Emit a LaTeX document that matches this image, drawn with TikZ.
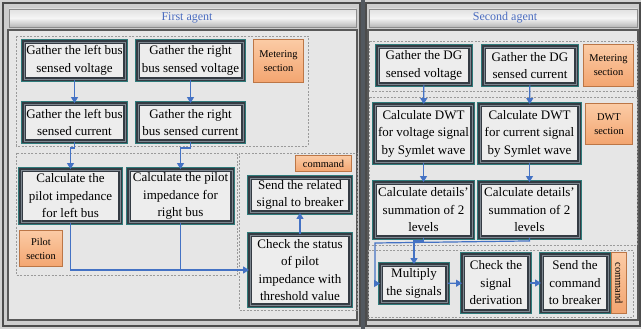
\documentclass[tikz,border=0pt]{standalone}
\usepackage{fontspec}
\setmainfont{Liberation Serif}
\usetikzlibrary{arrows.meta}

\definecolor{arrowblue}{HTML}{4472C4}
\definecolor{frameteal}{HTML}{2F7B7B}
\definecolor{framedark}{HTML}{343B43}
\definecolor{framemid}{HTML}{7E8790}
\definecolor{boxfill}{HTML}{EDEDED}
\definecolor{orangetop}{HTML}{FBCBA5}
\definecolor{orangebot}{HTML}{F3A570}
\definecolor{orangeedge}{HTML}{BC7646}
\definecolor{headtext}{HTML}{4A6CC0}
\definecolor{dashgray}{HTML}{9A9A9A}
\definecolor{canvasgray}{HTML}{D2D2D2}
\definecolor{panelgray}{HTML}{CDCDCD}
\definecolor{bodygray}{HTML}{E6E6E6}

\tikzset{
  stepbox/.style={
    preaction={draw=frameteal, line width=5.2pt},
    draw=framedark, double=framemid, double distance=0.7pt, line width=1.9pt,
    fill=boxfill, inner sep=0pt, align=center,
    font=\fontsize{13}{17.5}\selectfont},
  tagbox/.style={
    draw=orangeedge, line width=1.3pt,
    top color=orangetop, bottom color=orangebot,
    inner sep=0pt, align=center,
    font=\fontsize{10.4}{14}\selectfont},
  grp/.style={draw=dashgray, line width=0.8pt, dash pattern=on 2pt off 1.5pt},
  arr/.style={draw=arrowblue, line width=1.2pt, -{Triangle[width=7pt,length=6pt]}},
  lnk/.style={draw=arrowblue, line width=1.2pt},
  headbar/.style={draw=black!45, line width=0.8pt,
    top color=black!12, bottom color=black!28, middle color=black!4},
  panel/.style={draw=black!70, line width=1.2pt, fill=panelgray},
  panelbody/.style={draw=black!65, line width=1.4pt, fill=bodygray}
}

\begin{document}
\begin{tikzpicture}[x=1pt, y=-1pt]
  \useasboundingbox (0,0) rectangle (641,329);
  \fill[canvasgray] (0,0) rectangle (641,329);

  % two agent panels
  \draw[panel] (3,3) rectangle (360,326);
  \draw[panel] (366,3) rectangle (640,326);
  \fill[framedark!85] (361,0) rectangle (365,329);
  \draw[panelbody] (8,30) rectangle (357,320);
  \draw[panelbody] (368,30) rectangle (638,320);

  % panel title bars
  \draw[headbar] (9,9) rectangle (356,27);
  \node[text=headtext, font=\fontsize{12}{14}\selectfont] (t1) at (187,18) {First agent};
  \draw[headbar] (369,9) rectangle (637,27);
  \node[text=headtext, font=\fontsize{12}{14}\selectfont] (t2) at (505,18) {Second agent};

  % dashed section frames
  \draw[grp] (16,36) rectangle (308,146);
  \draw[grp] (16,153) rectangle (237,275);
  \draw[grp] (239,153) rectangle (357,310);
  \draw[grp] (369,41) rectangle (637,91);
  \draw[grp] (369,97) rectangle (637,245);
  \draw[grp] (368,250) rectangle (633,317);

  % first agent
  \node[stepbox, minimum width=101, minimum height=37] (L1) at (74.5,60.5) {Gather the left bus\\sensed voltage};
  \node[stepbox, minimum width=105, minimum height=37] (L2) at (190.5,60.5) {Gather the right\\bus sensed voltage};
  \node[tagbox, minimum width=50, minimum height=43] (M1) at (278.5,61) {Metering\\section};
  \node[stepbox, minimum width=101, minimum height=37] (L3) at (74.5,122.5) {Gather the left bus\\sensed current};
  \node[stepbox, minimum width=105, minimum height=37] (L4) at (190.5,122.5) {Gather the right\\bus sensed current};
  \node[stepbox, minimum width=99, minimum height=52] (L5) at (70.5,196) {Calculate the\\pilot impedance\\for left bus};
  \node[stepbox, minimum width=103, minimum height=52] (L6) at (180.5,196) {Calculate the pilot\\impedance for\\right bus};
  \node[tagbox, minimum width=43, minimum height=36] (P1) at (41,248.5) {Pilot\\section};
  \node[tagbox, minimum width=56, minimum height=16] (C1) at (323.5,163.5) {command};
  \node[stepbox, minimum width=100, minimum height=34] (L7) at (300,195) {Send the related\\signal to breaker};
  \node[stepbox, minimum width=100, minimum height=70] (L8) at (300,270) {Check the status\\of pilot\\impedance with\\threshold value};

  \draw[arr] (L1) -- (L3);
  \draw[arr] (L2) -- (L4);
  \draw[arr] (L3.south) -- ++(0,6) -| (L5.north);
  \draw[arr] (L4.south) -- ++(0,6) -| (L6.north);
  \draw[arr] (L5.south) |- (L8.west);
  \draw[lnk] (L6.south) -- (L6.south |- L8.west);
  \draw[arr] (L8) -- (L7);

  % second agent
  \node[stepbox, minimum width=92, minimum height=37] (R1) at (424,65.5) {Gather the DG\\sensed voltage};
  \node[stepbox, minimum width=92, minimum height=37] (R2) at (530,65.5) {Gather the DG\\sensed current};
  \node[tagbox, minimum width=50, minimum height=42] (M2) at (608.5,65.5) {Metering\\section};
  \node[stepbox, minimum width=97, minimum height=57] (R3) at (423.5,133.5) {Calculate DWT\\for voltage signal\\by Symlet wave};
  \node[stepbox, minimum width=99, minimum height=57] (R4) at (529.5,133.5) {Calculate DWT\\for current signal\\by Symlet wave};
  \node[tagbox, minimum width=47, minimum height=41] (D1) at (609,124) {DWT\\section};
  \node[stepbox, minimum width=97, minimum height=54] (R5) at (423.5,210) {Calculate details'\\summation of 2\\levels};
  \node[stepbox, minimum width=99, minimum height=54] (R6) at (529.5,210) {Calculate details'\\summation of 2\\levels};
  \node[stepbox, minimum width=66, minimum height=37] (R7) at (414,283.5) {Multiply\\the signals};
  \node[stepbox, minimum width=66, minimum height=56] (R8) at (496,283) {Check the\\signal\\derivation};
  \node[stepbox, minimum width=66, minimum height=56] (R9) at (575,283) {Send the\\command\\to breaker};
  \node[tagbox, minimum width=15, minimum height=61] (C2) at (619,283) {};
  \node[rotate=-90, font=\fontsize{10.4}{14}\selectfont] (C2t) at (C2.center) {command};

  \draw[arr] (R1) -- (R3);
  \draw[arr] (R2) -- (R4);
  \draw[arr] (R3) -- (R5);
  \draw[arr] (R4) -- (R6);
  \draw[arr] (R5.south) -- ++(0,3) -| (R7.north);
  \draw[arr] (R6.south) -- ++(0,3) -- (375,243) |- (R7.west);
  \draw[arr] (R7) -- (R8);
  \draw[arr] (R8) -- (R9);
\end{tikzpicture}
\end{document}
